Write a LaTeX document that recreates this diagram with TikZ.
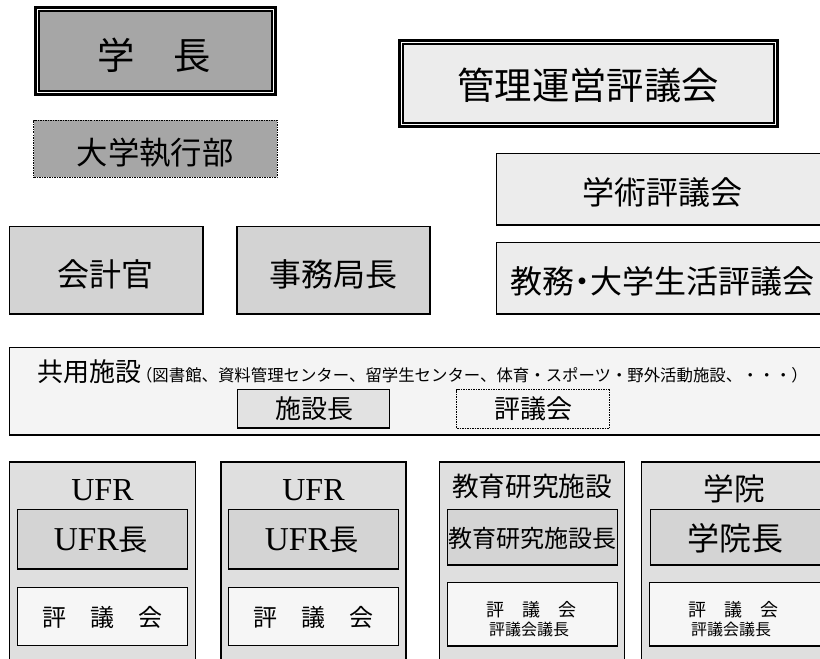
\documentclass[tikz,border=0pt]{standalone}
\usepackage{fontspec}
\setmainfont{Liberation Serif}
\newfontfamily\jp{Noto Sans CJK JP}
\usetikzlibrary{fit}
\definecolor{cDark}{HTML}{A6A6A6}
\definecolor{cMid}{HTML}{D3D3D3}
\definecolor{cLight}{HTML}{ECECEC}
\definecolor{cPale}{HTML}{F4F4F4}
\definecolor{cCol}{HTML}{DFDFDF}
\definecolor{cHead}{HTML}{D4D4D4}
\definecolor{cCouncil}{HTML}{F6F6F6}
\definecolor{cChief}{HTML}{E2E2E2}
\newcommand{\fs}[1]{\fontsize{#1}{#1}\selectfont}
\begin{document}
\begin{tikzpicture}[x=0.75pt,y=-0.75pt,
  box/.style={draw=black, line width=0.8pt, inner sep=0pt},
  dotbox/.style={draw=black, line width=0.75pt, inner sep=0pt, dash pattern=on 1.5pt off 0.75pt on 0.75pt off 0.75pt},
  outerframe/.style={draw=black, line width=2.25pt, fill=white, inner sep=0pt},
  innerframe/.style={draw=black, line width=1.5pt, inner sep=0pt},
  txt/.style={font=\jp, inner sep=0pt, text=black},
  serif/.style={font=\rmfamily, inner sep=0pt, text=black}]
\useasboundingbox (0,0) rectangle (820,659);
\clip (0,0) rectangle (820,659);
\fill[white] (0,0) rectangle (820,659);

% 学長
\node[outerframe, fit={(35.5,7.5) (275.5,95)}] (gkOut) {};
\node[innerframe, fill=cDark, fit={(39,11) (272,91.5)}] (gkIn) {};
\node[txt] (gkT) at (154,55) {\fs{28pt}学\hspace{29pt}長};

% 大学執行部
\node[dotbox, fill=cDark, fit={(33.5,120.5) (277,177.5)}] (exec) {};
\node[txt] (execT) at (155,153) {\fs{23.5pt}大学執行部};

% 管理運営評議会
\node[outerframe, fit={(399.5,40.5) (777.5,126.5)}] (kanriOut) {};
\node[innerframe, fill=cLight, fit={(403,44) (774,123)}] (kanriIn) {};
\node[txt] (kanriT) at (588,85) {\fs{28pt}管理運営評議会};

% 学術評議会 / 教務・大学生活評議会
\node[box, fill=cLight, fit={(496.5,153.5) (830,225)}] (gakujutsu) {};
\node[txt] (gakujutsuT) at (662,192) {\fs{24pt}学術評議会};
\node[box, fill=cLight, fit={(496.5,242.5) (830,314)}] (kyomu) {};
\node[txt] (kyomuT) at (662.5,281) {\fs{24pt}教務\kern-0.25em・\kern-0.25em大学生活評議会};

% 会計官 / 事務局長
\node[box, fill=cMid, fit={(9.5,226.5) (203,314)}] (kaikei) {};
\node[txt] (kaikeiT) at (105,274) {\fs{24pt}会計官};
\node[box, fill=cMid, fit={(237,226.5) (430,314)}] (jimu) {};
\node[txt] (jimuT) at (333.5,274) {\fs{24pt}事務局長};

% 共用施設
\node[box, fill=cPale, fit={(9.5,347.5) (830,435)}] (kyoyo) {};
\node[txt, anchor=base west] (kyoyoT) at (37,381) {\fs{19.5pt}共用施設\kern-0.2em\fs{12.3pt}（図書館、資料管理センター、留学生センター、体育・スポーツ・野外活動施設、・・・）};
\node[box, fill=cChief, fit={(237.5,389.5) (389.5,428)}] (shisetsucho) {};
\node[txt] (shisetsuchoT) at (314,409) {\fs{19.5pt}施設長};
\node[dotbox, fit={(456.5,389.5) (609,428)}] (hyogikai) {};
\node[txt] (hyogikaiT) at (533,409) {\fs{19.5pt}評議会};

% columns
\node[box, fill=cCol, fit={(9.5,462) (195.5,670)}] (ufrA) {};
\node[serif] (ufrAT) at (102.5,490) {\fs{24pt}UFR};
\node[box, fill=cHead, fit={(17.5,509.5) (187.5,569)}] (ufrAhead) {};
\node[serif] (ufrAheadT) at (101,540) {\fs{25pt}UFR{\jp\fs{22pt}長}};
\node[box, fill=cCouncil, fit={(17.5,587.5) (187.5,645.5)}] (ufrAcouncil) {};
\node[txt] (ufrAcouncilT) at (102.5,617) {\fs{18pt}評　議　会};

\node[box, fill=cCol, fit={(221,462) (406,670)}] (ufrB) {};
\node[serif] (ufrBT) at (313.5,490) {\fs{24pt}UFR};
\node[box, fill=cHead, fit={(228.5,509.5) (398.5,569)}] (ufrBhead) {};
\node[serif] (ufrBheadT) at (312,540) {\fs{25pt}UFR{\jp\fs{22pt}長}};
\node[box, fill=cCouncil, fit={(228.5,587.5) (398.5,645.5)}] (ufrBcouncil) {};
\node[txt] (ufrBcouncilT) at (313.5,617) {\fs{18pt}評　議　会};

\node[box, fill=cCol, fit={(439.5,462) (624.5,670)}] (kenkyu) {};
\node[txt] (kenkyuT) at (532,486) {\fs{20pt}教育研究施設};
\node[box, fill=cHead, fit={(447.5,509.5) (617.5,565)}] (kenkyuhead) {};
\node[txt] (kenkyuheadT) at (532,538) {\fs{18pt}教育研究施設長};
\node[box, fill=cCouncil, fit={(447.5,582.5) (617.5,646)}] (kenkyucouncil) {};
\node[txt] (kenkyucouncilT) at (531,610) {\fs{13.5pt}評　議　会};
\node[txt] (kenkyuchairT) at (529,629) {\fs{12pt}評議会議長};

\node[box, fill=cCol, fit={(641.5,462) (830,670)}] (gakuin) {};
\node[txt] (gakuinT) at (734,489) {\fs{23pt}学院};
\node[box, fill=cHead, fit={(650.5,509.5) (830,565)}] (gakuinhead) {};
\node[txt] (gakuinheadT) at (735,538) {\fs{24pt}学院長};
\node[box, fill=cCouncil, fit={(649.5,582.5) (830,646)}] (gakuincouncil) {};
\node[txt] (gakuincouncilT) at (733,610) {\fs{13.5pt}評　議　会};
\node[txt] (gakuinchairT) at (731,629) {\fs{12pt}評議会議長};
\end{tikzpicture}
\end{document}
